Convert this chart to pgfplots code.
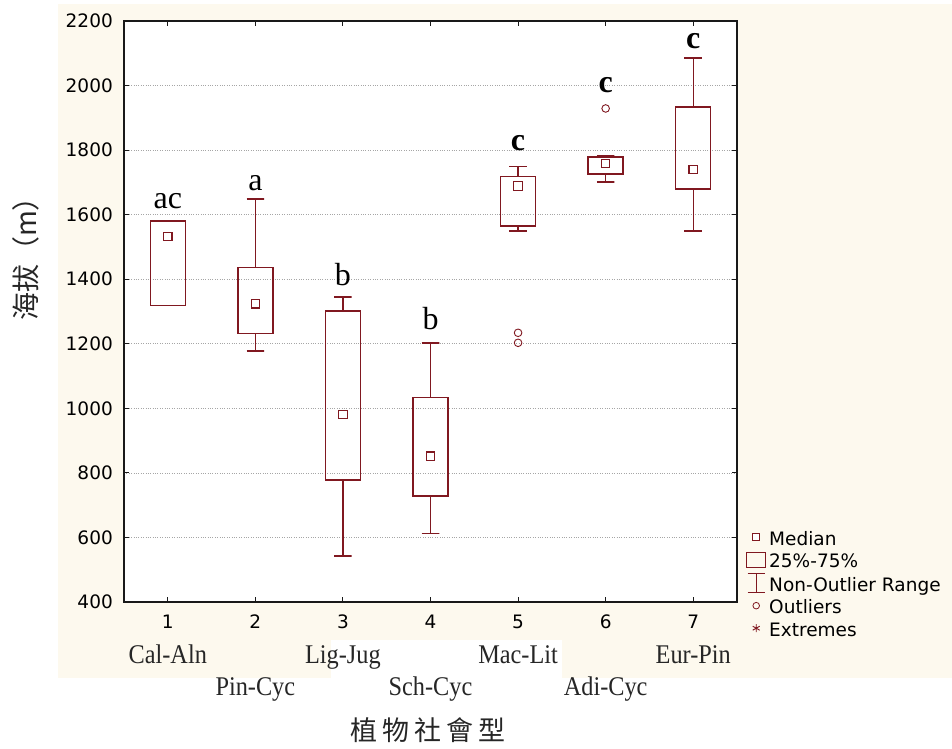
\documentclass[border=0pt]{standalone}
\usepackage{pgfplots}
\pgfplotsset{compat=1.18}
\usepackage{fontspec}
\setmainfont{Liberation Serif}
\newfontfamily\dejavu{DejaVu Sans}
\newfontfamily\cjk{Noto Sans CJK TC}
\newfontfamily\catserif[FakeStretch=0.9]{Liberation Serif}
\definecolor{beige}{RGB}{253,249,238}
\definecolor{boxred}{RGB}{128,24,32}
\newcommand\tickfont{\dejavu\fontsize{18.5bp}{22bp}\selectfont}
\newcommand\catfont{\catserif\fontsize{27bp}{30bp}\selectfont}
\newcommand\letfont{\fontsize{32bp}{36bp}\selectfont}

\begin{document}
\begin{tikzpicture}
\fill[beige] (58bp,71bp) rectangle (952bp,745bp);
\fill[white] (331bp,71bp) rectangle (562bp,109bp);
\begin{axis}[
  at={(124bp,147bp)}, anchor=south west,
  scale only axis, width=613bp, height=581bp,
  xmin=0.5, xmax=7.5, ymin=400, ymax=2200,
  xtick={1,2,3,4,5,6,7}, ytick={400,600,...,2200},
  scaled ticks=false,
  /pgf/number format/1000 sep={},
  /pgf/number format/assume math mode=true,
  tick align=inside, tick pos=both, major tick length=5bp,
  ymajorgrids, grid style={dotted, black!35, line width=0.7bp},
  axis line style={line width=1.3bp, black!90},
  tick style={line width=1.1bp, black!90},
  axis background/.style={fill=white},
  tick label style={font=\tickfont, text=black},
  yticklabel style={inner sep=0pt, xshift=-11bp},
  xticklabel style={inner sep=0pt, yshift=-13bp},
  clip=false,
  legend style={at={(1.0147,0.1274)}, anchor=north west, draw=none, fill=none,
    inner sep=0pt, row sep=1.5bp, column sep=3bp, font=\tickfont,
    nodes={inner sep=0pt, text height=17bp, text depth=4bp}},
  legend cell align=left,
  every axis plot/.append style={forget plot},
]
\pgfplotsset{bx/.style={draw=boxred, line width=1.4bp, solid, mark=none, line join=miter}}

% boxes (25%-75%)
\addplot[bx] coordinates {(0.8,1319) (1.2,1319) (1.2,1580) (0.8,1580) (0.8,1319) (1.2,1319)};
\addplot[bx] coordinates {(1.8,1232) (2.2,1232) (2.2,1436) (1.8,1436) (1.8,1232) (2.2,1232)};
\addplot[bx] coordinates {(2.8,778) (3.2,778) (3.2,1301) (2.8,1301) (2.8,778) (3.2,778)};
\addplot[bx] coordinates {(3.8,729) (4.2,729) (4.2,1033) (3.8,1033) (3.8,729) (4.2,729)};
\addplot[bx] coordinates {(4.8,1565) (5.2,1565) (5.2,1718) (4.8,1718) (4.8,1565) (5.2,1565)};
\addplot[bx] coordinates {(5.8,1726) (6.2,1726) (6.2,1779) (5.8,1779) (5.8,1726) (6.2,1726)};
\addplot[bx] coordinates {(6.8,1679) (7.2,1679) (7.2,1933) (6.8,1933) (6.8,1679) (7.2,1679)};

% whiskers (non-outlier range)
\addplot[bx] coordinates {(1.9,1648) (2.1,1648) (2,1648) (2,1436)};
\addplot[bx] coordinates {(1.9,1177) (2.1,1177) (2,1177) (2,1232)};
\addplot[bx] coordinates {(2.9,1345) (3.1,1345) (3,1345) (3,1301)};
\addplot[bx] coordinates {(2.9,543) (3.1,543) (3,543) (3,778)};
\addplot[bx] coordinates {(3.9,1203) (4.1,1203) (4,1203) (4,1033)};
\addplot[bx] coordinates {(3.9,613) (4.1,613) (4,613) (4,729)};
\addplot[bx] coordinates {(4.9,1749) (5.1,1749) (5,1749) (5,1718)};
\addplot[bx] coordinates {(4.9,1550) (5.1,1550) (5,1550) (5,1565)};
\addplot[bx] coordinates {(5.9,1782) (6.1,1782) (6,1782) (6,1779)};
\addplot[bx] coordinates {(5.9,1701) (6.1,1701) (6,1701) (6,1726)};
\addplot[bx] coordinates {(6.9,2085) (7.1,2085) (7,2085) (7,1933)};
\addplot[bx] coordinates {(6.9,1550) (7.1,1550) (7,1550) (7,1679)};

% outliers
\addplot[only marks, mark=o, mark size=3.8bp, mark options={draw=boxred, line width=0.9bp, fill=white}]
  coordinates {(5,1234) (5,1203) (6,1929)};

% medians
\addplot[only marks, mark=square*, mark size=4.2bp, mark options={draw=boxred, fill=white, line width=1.2bp}]
  coordinates {(1,1532) (2,1324) (3,981) (4,852) (5,1689) (6,1758) (7,1740)};

% significance letters
\node[anchor=base, font=\letfont] at (axis cs:1,1620) {ac};
\node[anchor=base, font=\letfont] at (axis cs:2,1676) {a};
\node[anchor=base, font=\letfont] at (axis cs:3,1382) {b};
\node[anchor=base, font=\letfont] at (axis cs:4,1243) {b};
\node[anchor=base, font=\letfont\bfseries] at (axis cs:5,1800) {c};
\node[anchor=base, font=\letfont\bfseries] at (axis cs:6,1977) {c};
\node[anchor=base, font=\letfont\bfseries] at (axis cs:7,2116) {c};

% category names
\node[anchor=base, font=\catfont, text=black!85] at ([yshift=-62bp]axis cs:1,400) {Cal-Aln};
\node[anchor=base, font=\catfont, text=black!85] at ([yshift=-94bp]axis cs:2,400) {Pin-Cyc};
\node[anchor=base, font=\catfont, text=black!85] at ([yshift=-62bp]axis cs:3,400) {Lig-Jug};
\node[anchor=base, font=\catfont, text=black!85] at ([yshift=-94bp]axis cs:4,400) {Sch-Cyc};
\node[anchor=base, font=\catfont, text=black!85] at ([yshift=-62bp]axis cs:5,400) {Mac-Lit};
\node[anchor=base, font=\catfont, text=black!85] at ([yshift=-94bp]axis cs:6,400) {Adi-Cyc};
\node[anchor=base, font=\catfont, text=black!85] at ([yshift=-62bp]axis cs:7,400) {Eur-Pin};

% legend
\addlegendimage{legend image code/.code={\draw[boxred, fill=white, line width=1bp] (-3.5bp,-2bp) rectangle (3.5bp,5bp);}}
\addlegendentry{Median}
\addlegendimage{legend image code/.code={\draw[boxred, line width=1bp] (-9.5bp,-6bp) rectangle (9.5bp,9bp);}}
\addlegendentry{25\%-75\%}
\addlegendimage{legend image code/.code={\draw[boxred, line width=1bp] (-8.5bp,11bp) -- (8.5bp,11bp) (0bp,11bp) -- (0bp,-8bp) (-8.5bp,-8bp) -- (8.5bp,-8bp);}}
\addlegendentry{Non-Outlier Range}
\addlegendimage{legend image code/.code={\draw[boxred, line width=0.8bp] (0bp,1.5bp) circle (3.3bp);}}
\addlegendentry{Outliers}
\addlegendimage{legend image code/.code={\draw[boxred, line width=0.9bp] (0bp,-2.5bp) -- (0bp,5.5bp) (-3.5bp,-0.5bp) -- (3.5bp,3.5bp) (-3.5bp,3.5bp) -- (3.5bp,-0.5bp);}}
\addlegendentry{Extremes}
\end{axis}
\node[font={\cjk\fontsize{27bp}{30bp}\selectfont}, text=black!85, inner sep=0pt] at (428bp,19bp) {植\hspace{5bp}物\hspace{5bp}社\hspace{5bp}會\hspace{5bp}型};
\node[font={\cjk\fontsize{28bp}{30bp}\selectfont}, text=black!85, rotate=90, inner sep=0pt] at (26bp,497bp) {海拔（m）};
\pgfresetboundingbox
\path[use as bounding box] (0,0) rectangle (952bp,749bp);
\end{tikzpicture}
\end{document}
